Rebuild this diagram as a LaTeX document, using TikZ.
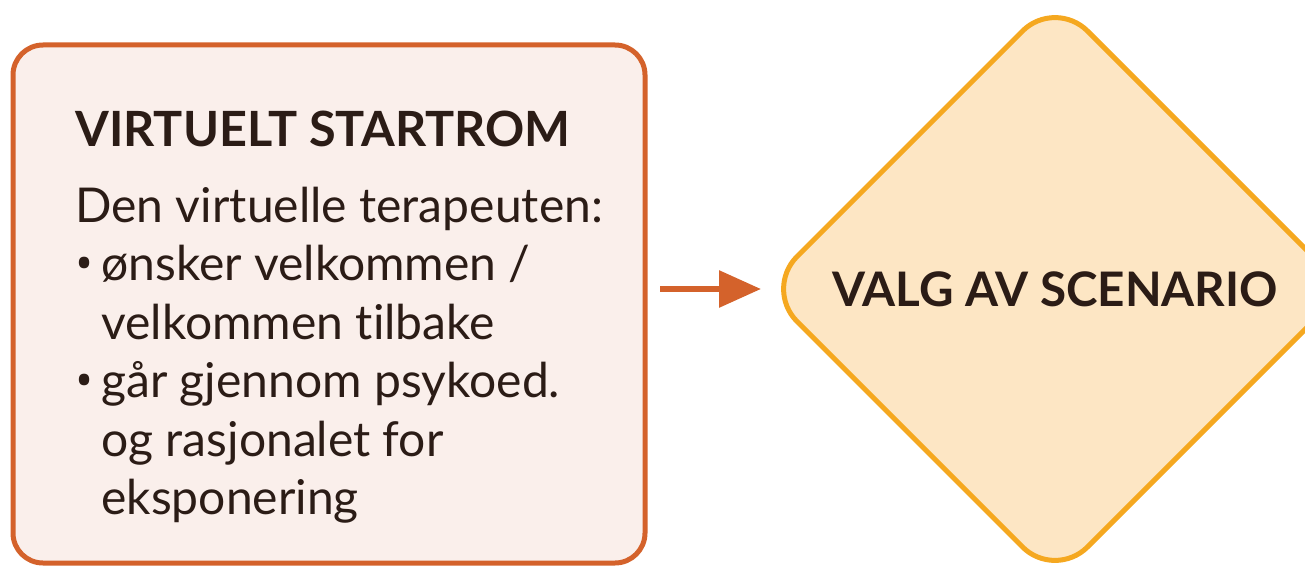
\documentclass[tikz,border=0pt]{standalone}
\usepackage{fontspec}
\setmainfont{Lato}[Ligatures={NoCommon}]
\newfontfamily\dotfont{Open Sans}
\usetikzlibrary{shapes.geometric,arrows.meta,positioning}
\definecolor{rust}{HTML}{D4622B}
\definecolor{blush}{HTML}{FAEFEB}
\definecolor{amber}{HTML}{F5A820}
\definecolor{sand}{HTML}{FDE6C4}
\definecolor{ink}{HTML}{2B1C16}
\newcommand{\dotitem}{\makebox[13pt][l]{\dotfont\textbullet}}

\begin{document}
\begin{tikzpicture}[x=0.5pt,y=-0.5pt,
startbox/.style={draw=rust, fill=blush, line width=2.5pt,
    rounded corners=15pt, minimum width=316pt, minimum height=259pt,
    inner sep=0pt},
choice/.style={diamond, draw=amber, fill=sand, line width=2.5pt,
    rounded corners=23pt, minimum width=291.5pt, minimum height=291.5pt,
    inner sep=0pt, text=ink, font=\fontsize{23.8}{24}\selectfont\bfseries},
boxtitle/.style={anchor=base west, inner sep=0pt, text=ink,
    font=\fontsize{24.3}{25}\selectfont\bfseries},
txt/.style={anchor=base west, inner sep=0pt, text=ink,
    font=\fontsize{24}{24}\selectfont},
flow/.style={draw=rust, line width=3pt,
    -{Triangle[length=21pt,width=18pt]}}]
\useasboundingbox (0,0) rectangle (1305,567);

% left box
\node[startbox] (start) at (329,304) {};
\node[boxtitle] (title) at (75,147) {VIRTUELT STARTROM};
\node[txt] (l1) at (75,222) {Den virtuelle terapeuten:};
\node[txt] (l2) at (75,280) {\dotitem ønsker velkommen /};
\node[txt] (l3) at (101,339) {velkommen tilbake};
\node[txt] (l4) at (75,397) {\dotitem går gjennom psykoed.};
\node[txt] (l5) at (101,456) {og rasjonalet for};
\node[txt] (l6) at (101,514) {eksponering};

% decision
\node[choice] (scen) at (1055,289) {VALG AV SCENARIO};

\draw[flow, shorten <=6.25pt] (scen.west -| start.east) -- (scen.west);
\end{tikzpicture}
\end{document}
